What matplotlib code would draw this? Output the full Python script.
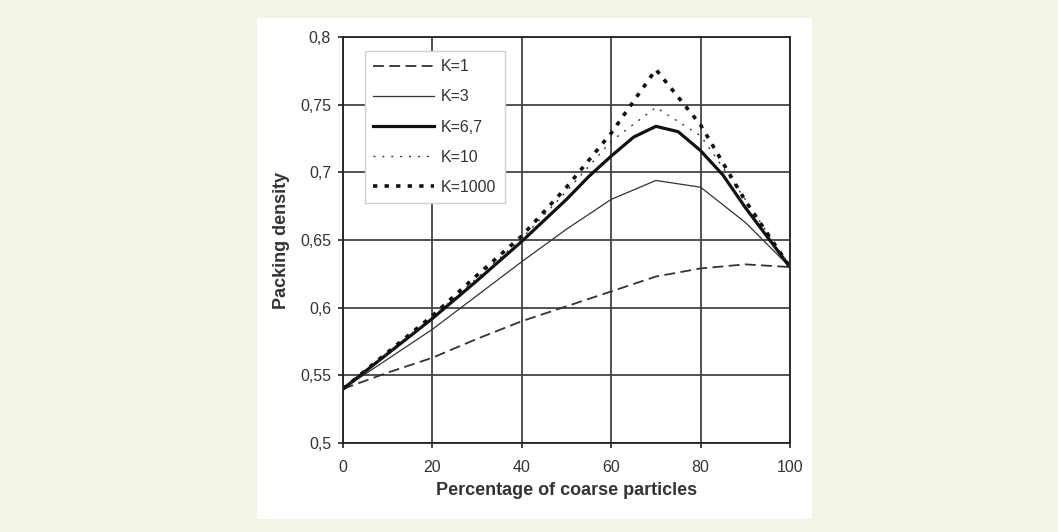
import matplotlib
matplotlib.use("Agg")
import matplotlib.pyplot as plt
from matplotlib.patches import Rectangle

# percentage of coarse particles
pct = [0, 10, 20, 30, 40, 50, 60, 70, 80, 90, 100]
pct_fine = [0, 10, 20, 30, 40, 50, 55, 60, 65, 70, 75, 80, 85, 90, 100]

# packing density
k1 = [0.540, 0.552, 0.563, 0.577, 0.590, 0.601, 0.612, 0.623, 0.629, 0.632, 0.630]
k3 = [0.540, 0.562, 0.584, 0.609, 0.634, 0.658, 0.680, 0.694, 0.689, 0.663, 0.630]
k67 = [0.540, 0.566, 0.592, 0.620, 0.649, 0.680, 0.697, 0.712, 0.726, 0.734,
       0.730, 0.716, 0.698, 0.674, 0.630]
k10 = [0.540, 0.566, 0.593, 0.622, 0.651, 0.686, 0.723, 0.748, 0.727, 0.680, 0.630]
k1000 = [0.540, 0.567, 0.594, 0.624, 0.653, 0.689, 0.729, 0.776, 0.735, 0.679, 0.630]

yticks = [0.5, 0.55, 0.6, 0.65, 0.7, 0.75, 0.8]
ytick_labels = ["0,5", "0,55", "0,6", "0,65", "0,7", "0,75", "0,8"]
xticks = [0, 20, 40, 60, 80, 100]

plt.rcParams["font.family"] = ["Liberation Sans", "DejaVu Sans"]

fig = plt.figure(figsize=(10.58, 5.32), dpi=100)
fig.patch.set_facecolor("#f2f5e6")
# white panel behind the chart
panel = Rectangle((257 / 1058, 1 - 519 / 532), 555 / 1058, 501 / 532,
                  transform=fig.transFigure, facecolor="white",
                  edgecolor="none", zorder=-10)
fig.add_artist(panel)

ax = fig.add_axes([343 / 1058, 1 - 443 / 532, 447 / 1058, 406 / 532])
ax.set_facecolor("white")

ink = "#222222"
txt = "#333333"
ax.plot(pct, k1, color="#333333", lw=1.3, dashes=(6, 3), label="K=1")
ax.plot(pct, k3, color="#333333", lw=0.9, label="K=3")
ax.plot(pct_fine, k67, color="#111111", lw=2.3, label="K=6,7")
ax.plot(pct, k10, color="#333333", lw=1.0, dashes=(1.4, 5.0), label="K=10")
ax.plot(pct, k1000, color="#111111", lw=2.6, dashes=(1.2, 2.0), label="K=1000")

ax.set_xlim(0, 100)
ax.set_ylim(0.5, 0.8)
ax.set_xticks(xticks)
ax.set_yticks(yticks)
ax.set_yticklabels(ytick_labels)
ax.grid(True, color="#444444", lw=1.3)
ax.set_axisbelow(True)
for s in ax.spines.values():
    s.set_color(ink)
    s.set_linewidth(1.3)
ax.tick_params(direction="out", length=3.6, width=1.2, color=ink,
               labelsize=11.5, labelcolor=txt)
ax.tick_params(axis="x", pad=8.5)
ax.tick_params(axis="y", pad=5)

ax.set_xlabel("Percentage of coarse particles", fontsize=13, fontweight="bold",
              color=txt, labelpad=5)
ax.set_ylabel("Packing density", fontsize=13, fontweight="bold",
              color=txt, labelpad=7)

leg = ax.legend(loc="upper left", bbox_to_anchor=(0.05, 0.965), fontsize=11.5,
                handlelength=3.8, handletextpad=0.45, labelspacing=0.95,
                fancybox=False, framealpha=1, borderpad=0.5, borderaxespad=0)
leg.get_frame().set_edgecolor("#d0d0d0")
leg.get_frame().set_linewidth(1.0)
for t in leg.get_texts():
    t.set_color(txt)

fig.savefig("out.png", dpi=100, facecolor=fig.get_facecolor())
